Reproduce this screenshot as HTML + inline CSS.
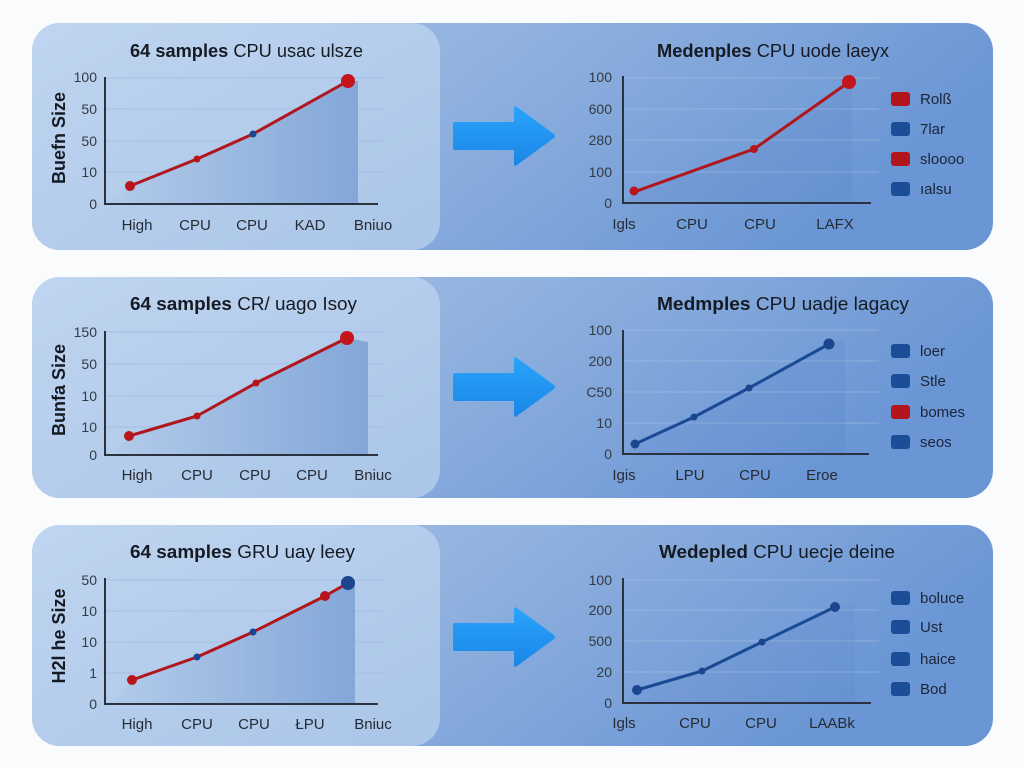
<!DOCTYPE html>
<html>
<head>
<meta charset="utf-8">
<style>
html,body{margin:0;padding:0;background:#fafbfd;}
svg{display:block;font-family:"Liberation Sans","DejaVu Sans",sans-serif;}
.t{font-size:18px;fill:#161a22;}
.b{font-weight:bold;}
.tk{font-size:14px;fill:#353a44;text-anchor:end;}
.xl{font-size:15px;fill:#262b35;text-anchor:middle;}
.yl{font-size:18px;font-weight:bold;fill:#161a22;text-anchor:middle;}
.lg{font-size:15px;fill:#1c2538;}
.gl{stroke:#9fb9de;stroke-width:1;opacity:.7;}
.gr{stroke:#a9c2e6;stroke-width:1;opacity:.55;}
.ax{stroke:#2a3240;stroke-width:2;fill:none;}
.rl{stroke:#b0161c;stroke-width:3;fill:none;stroke-linejoin:round;}
.bl{stroke:#1a4a94;stroke-width:3;fill:none;stroke-linejoin:round;}
</style>
</head>
<body>
<svg width="1024" height="768" viewBox="0 0 1024 768" xmlns="http://www.w3.org/2000/svg">
<defs>
  <linearGradient id="outer" x1="0" y1="0" x2="1" y2="0.3">
    <stop offset="0" stop-color="#a7c3e8"/>
    <stop offset="0.45" stop-color="#93b3df"/>
    <stop offset="1" stop-color="#6a96d5"/>
  </linearGradient>
  <linearGradient id="left" x1="0" y1="0" x2="1" y2="1">
    <stop offset="0" stop-color="#bfd5f0"/>
    <stop offset="1" stop-color="#aac5e8"/>
  </linearGradient>
  <linearGradient id="fillL" x1="0" y1="0" x2="1" y2="0">
    <stop offset="0" stop-color="#b2cbea"/>
    <stop offset="1" stop-color="#84a7d8"/>
  </linearGradient>
  <linearGradient id="arrow" x1="0" y1="0" x2="0" y2="1">
    <stop offset="0" stop-color="#2aa4fb"/>
    <stop offset="1" stop-color="#1a86e6"/>
  </linearGradient>
</defs>

<!-- ===== ROW 1 ===== -->
<rect x="32" y="23" width="961" height="227" rx="28" fill="url(#outer)"/>
<rect x="32" y="23" width="408" height="227" rx="28" fill="url(#left)"/>
<text x="130" y="57" class="t" textLength="233" lengthAdjust="spacingAndGlyphs"><tspan class="b">64 samples</tspan> CPU usac ulsze</text>
<line class="gl" x1="106" y1="78" x2="382" y2="78"/>
<line class="gl" x1="106" y1="109" x2="382" y2="109"/>
<line class="gl" x1="106" y1="141" x2="382" y2="141"/>
<line class="gl" x1="106" y1="172" x2="382" y2="172"/>
<polygon points="110,204 130,186 197,159 253,134 348,81 358,81 358,204" fill="url(#fillL)"/>
<line class="ax" x1="105" y1="77" x2="105" y2="205"/>
<line class="ax" x1="104" y1="204" x2="378" y2="204"/>
<text class="tk" x="97" y="82">100</text>
<text class="tk" x="97" y="114">50</text>
<text class="tk" x="97" y="146">50</text>
<text class="tk" x="97" y="177">10</text>
<text class="tk" x="97" y="209">0</text>
<text class="yl" transform="translate(65,138) rotate(-90)">Buefn Size</text>
<text class="xl" x="137" y="230">High</text>
<text class="xl" x="195" y="230">CPU</text>
<text class="xl" x="252" y="230">CPU</text>
<text class="xl" x="310" y="230">KAD</text>
<text class="xl" x="373" y="230">Bniuo</text>
<polyline class="rl" points="130,186 197,159 253,134 348,81"/>
<circle cx="130" cy="186" r="5" fill="#b8141c"/>
<circle cx="197" cy="159" r="3.5" fill="#b8141c"/>
<circle cx="253" cy="134" r="3.5" fill="#1a4690"/>
<circle cx="348" cy="81" r="7" fill="#c4141c"/>
<path d="M455,122 H514 V108 Q514,105 517,107 L554,134 Q556,136 554,138 L517,165 Q514,167 514,164 V150 H455 Q453,150 453,148 V124 Q453,122 455,122 Z" fill="url(#arrow)"/>
<text x="657" y="57" class="t" textLength="232" lengthAdjust="spacingAndGlyphs"><tspan class="b">Medenples</tspan> CPU uode laeyx</text>
<line class="gr" x1="624" y1="78" x2="879" y2="78"/>
<line class="gr" x1="624" y1="109" x2="879" y2="109"/>
<line class="gr" x1="624" y1="140" x2="879" y2="140"/>
<line class="gr" x1="624" y1="172" x2="879" y2="172"/>
<polygon points="625,203 634,192 754,149 849,82 852,82 852,203" fill="#2b5cae" opacity=".07"/>
<line class="ax" x1="623" y1="76" x2="623" y2="204"/>
<line class="ax" x1="622" y1="203" x2="871" y2="203"/>
<text class="tk" x="612" y="82">100</text>
<text class="tk" x="612" y="114">600</text>
<text class="tk" x="612" y="145">280</text>
<text class="tk" x="612" y="177">100</text>
<text class="tk" x="612" y="208">0</text>
<text class="xl" x="624" y="229">Igls</text>
<text class="xl" x="692" y="229">CPU</text>
<text class="xl" x="760" y="229">CPU</text>
<text class="xl" x="835" y="229">LAFX</text>
<polyline class="rl" points="634,192 754,149 849,82"/>
<circle cx="634" cy="191" r="4.5" fill="#b8141c"/>
<circle cx="754" cy="149" r="4" fill="#b8141c"/>
<circle cx="849" cy="82" r="7" fill="#c4141c"/>
<rect x="891" y="92" width="19" height="14" rx="3" fill="#b3151d"/>
<rect x="891" y="122" width="19" height="14" rx="3" fill="#1b4d98"/>
<rect x="891" y="152" width="19" height="14" rx="3" fill="#b3151d"/>
<rect x="891" y="182" width="19" height="14" rx="3" fill="#1b4d98"/>
<text class="lg" x="920" y="104">Rolß</text>
<text class="lg" x="920" y="134">7lar</text>
<text class="lg" x="920" y="164">sloooo</text>
<text class="lg" x="920" y="194">ıalsu</text>

<!-- ===== ROW 2 ===== -->
<rect x="32" y="277" width="961" height="221" rx="28" fill="url(#outer)"/>
<rect x="32" y="277" width="408" height="221" rx="28" fill="url(#left)"/>
<text x="130" y="310" class="t" textLength="227" lengthAdjust="spacingAndGlyphs"><tspan class="b">64 samples</tspan> CR/ uago Isoy</text>
<line class="gl" x1="106" y1="332" x2="382" y2="332"/>
<line class="gl" x1="106" y1="364" x2="382" y2="364"/>
<line class="gl" x1="106" y1="396" x2="382" y2="396"/>
<line class="gl" x1="106" y1="427" x2="382" y2="427"/>
<polygon points="112,455 129,436 197,416 256,383 347,338 368,342 368,455" fill="url(#fillL)"/>
<line class="ax" x1="105" y1="331" x2="105" y2="456"/>
<line class="ax" x1="104" y1="455" x2="378" y2="455"/>
<text class="tk" x="97" y="337">150</text>
<text class="tk" x="97" y="369">50</text>
<text class="tk" x="97" y="401">10</text>
<text class="tk" x="97" y="432">10</text>
<text class="tk" x="97" y="460">0</text>
<text class="yl" transform="translate(65,390) rotate(-90)">Bunfa Size</text>
<text class="xl" x="137" y="480">High</text>
<text class="xl" x="197" y="480">CPU</text>
<text class="xl" x="255" y="480">CPU</text>
<text class="xl" x="312" y="480">CPU</text>
<text class="xl" x="373" y="480">Bniuc</text>
<polyline class="rl" points="129,436 197,416 256,383 347,338"/>
<circle cx="129" cy="436" r="5" fill="#b8141c"/>
<circle cx="197" cy="416" r="3.5" fill="#b8141c"/>
<circle cx="256" cy="383" r="3.5" fill="#b8141c"/>
<circle cx="347" cy="338" r="7" fill="#c4141c"/>
<path d="M455,373 H514 V359 Q514,356 517,358 L554,385 Q556,387 554,389 L517,416 Q514,418 514,415 V401 H455 Q453,401 453,399 V375 Q453,373 455,373 Z" fill="url(#arrow)"/>
<text x="657" y="310" class="t" textLength="252" lengthAdjust="spacingAndGlyphs"><tspan class="b">Medmples</tspan> CPU uadje lagacy</text>
<line class="gr" x1="624" y1="330" x2="879" y2="330"/>
<line class="gr" x1="624" y1="361" x2="879" y2="361"/>
<line class="gr" x1="624" y1="392" x2="879" y2="392"/>
<line class="gr" x1="624" y1="423" x2="879" y2="423"/>
<polygon points="625,454 635,444 694,417 749,388 829,344 845,340 845,454" fill="#2b5cae" opacity=".08"/>
<line class="ax" x1="623" y1="330" x2="623" y2="455"/>
<line class="ax" x1="622" y1="454" x2="869" y2="454"/>
<text class="tk" x="612" y="335">100</text>
<text class="tk" x="612" y="366">200</text>
<text class="tk" x="612" y="397">C50</text>
<text class="tk" x="612" y="428">10</text>
<text class="tk" x="612" y="459">0</text>
<text class="xl" x="624" y="480">Igis</text>
<text class="xl" x="690" y="480">LPU</text>
<text class="xl" x="755" y="480">CPU</text>
<text class="xl" x="822" y="480">Eroe</text>
<polyline class="bl" points="635,444 694,417 749,388 829,344"/>
<circle cx="635" cy="444" r="4.5" fill="#1a4690"/>
<circle cx="694" cy="417" r="3.5" fill="#1a4690"/>
<circle cx="749" cy="388" r="3.5" fill="#1a4690"/>
<circle cx="829" cy="344" r="5.5" fill="#1a4690"/>
<rect x="891" y="344" width="19" height="14" rx="3" fill="#1b4d98"/>
<rect x="891" y="374" width="19" height="14" rx="3" fill="#1b4d98"/>
<rect x="891" y="405" width="19" height="14" rx="3" fill="#b3151d"/>
<rect x="891" y="435" width="19" height="14" rx="3" fill="#1b4d98"/>
<text class="lg" x="920" y="356">loer</text>
<text class="lg" x="920" y="386">Stle</text>
<text class="lg" x="920" y="417">bomes</text>
<text class="lg" x="920" y="447">seos</text>

<!-- ===== ROW 3 ===== -->
<rect x="32" y="525" width="961" height="221" rx="28" fill="url(#outer)"/>
<rect x="32" y="525" width="408" height="221" rx="28" fill="url(#left)"/>
<text x="130" y="558" class="t" textLength="225" lengthAdjust="spacingAndGlyphs"><tspan class="b">64 samples</tspan> GRU uay leey</text>
<line class="gl" x1="106" y1="580" x2="382" y2="580"/>
<line class="gl" x1="106" y1="611" x2="382" y2="611"/>
<line class="gl" x1="106" y1="642" x2="382" y2="642"/>
<line class="gl" x1="106" y1="673" x2="382" y2="673"/>
<polygon points="112,704 132,680 197,657 253,632 325,596 348,583 355,583 355,704" fill="url(#fillL)"/>
<line class="ax" x1="105" y1="578" x2="105" y2="705"/>
<line class="ax" x1="104" y1="704" x2="378" y2="704"/>
<text class="tk" x="97" y="585">50</text>
<text class="tk" x="97" y="616">10</text>
<text class="tk" x="97" y="647">10</text>
<text class="tk" x="97" y="678">1</text>
<text class="tk" x="97" y="709">0</text>
<text class="yl" transform="translate(65,636) rotate(-90)">H2l he Size</text>
<text class="xl" x="137" y="729">High</text>
<text class="xl" x="197" y="729">CPU</text>
<text class="xl" x="254" y="729">CPU</text>
<text class="xl" x="310" y="729">ŁPU</text>
<text class="xl" x="373" y="729">Bniuc</text>
<polyline class="rl" points="132,680 197,657 253,632 325,596 348,583"/>
<circle cx="132" cy="680" r="5" fill="#b8141c"/>
<circle cx="197" cy="657" r="3.5" fill="#1a4690"/>
<circle cx="253" cy="632" r="3.5" fill="#1a4690"/>
<circle cx="325" cy="596" r="5" fill="#b8141c"/>
<circle cx="348" cy="583" r="7" fill="#1a4690"/>
<path d="M455,623 H514 V609 Q514,606 517,608 L554,635 Q556,637 554,639 L517,666 Q514,668 514,665 V651 H455 Q453,651 453,649 V625 Q453,623 455,623 Z" fill="url(#arrow)"/>
<text x="659" y="558" class="t" textLength="236" lengthAdjust="spacingAndGlyphs"><tspan class="b">Wedepled</tspan> CPU uecje deine</text>
<line class="gr" x1="624" y1="580" x2="879" y2="580"/>
<line class="gr" x1="624" y1="610" x2="879" y2="610"/>
<line class="gr" x1="624" y1="641" x2="879" y2="641"/>
<line class="gr" x1="624" y1="672" x2="879" y2="672"/>
<polygon points="625,703 637,690 702,671 762,642 835,607 855,604 855,703" fill="#2b5cae" opacity=".06"/>
<line class="ax" x1="623" y1="578" x2="623" y2="704"/>
<line class="ax" x1="622" y1="703" x2="871" y2="703"/>
<text class="tk" x="612" y="585">100</text>
<text class="tk" x="612" y="615">200</text>
<text class="tk" x="612" y="646">500</text>
<text class="tk" x="612" y="677">20</text>
<text class="tk" x="612" y="708">0</text>
<text class="xl" x="624" y="728">Igls</text>
<text class="xl" x="695" y="728">CPU</text>
<text class="xl" x="761" y="728">CPU</text>
<text class="xl" x="832" y="728">LAABk</text>
<polyline class="bl" points="637,690 702,671 762,642 835,607"/>
<circle cx="637" cy="690" r="5" fill="#1a4690"/>
<circle cx="702" cy="671" r="3.5" fill="#1a4690"/>
<circle cx="762" cy="642" r="3.5" fill="#1a4690"/>
<circle cx="835" cy="607" r="5" fill="#1a4690"/>
<rect x="891" y="591" width="19" height="14" rx="3" fill="#1b4d98"/>
<rect x="891" y="620" width="19" height="14" rx="3" fill="#1b4d98"/>
<rect x="891" y="652" width="19" height="14" rx="3" fill="#1b4d98"/>
<rect x="891" y="682" width="19" height="14" rx="3" fill="#1b4d98"/>
<text class="lg" x="920" y="603">boluce</text>
<text class="lg" x="920" y="632">Ust</text>
<text class="lg" x="920" y="664">haice</text>
<text class="lg" x="920" y="694">Bod</text>
</svg>
</body>
</html>
